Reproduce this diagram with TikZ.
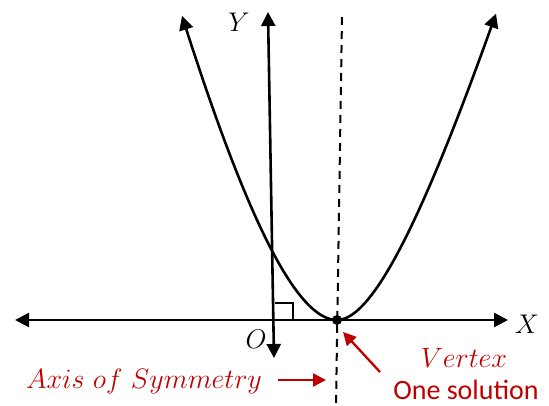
\RequirePackage{fix-cm}
\documentclass[tikz,border=0pt]{standalone}
\usepackage{fontspec}
\newfontfamily\calib{Carlito}
\usetikzlibrary{arrows.meta}
\definecolor{markred}{HTML}{C00000}
\begin{document}
\begin{tikzpicture}[x=1pt,y=-1pt,
    axis/.style={line width=2.6pt,{Triangle[length=14pt,width=14pt]}-{Triangle[length=14pt,width=14pt]}},
    pointer/.style={markred,line width=2.3pt,-{Triangle[length=13pt,width=13pt]}},
    lbl/.style={font=\fontsize{27}{32}\selectfont,anchor=base,inner sep=0pt}]
    \useasboundingbox (0,0) rectangle (549,405);

    % axes
    \coordinate (xl) at (15,320);
    \coordinate (xr) at (508,320);
    \coordinate (yb) at (274,358);
    \coordinate (yt) at (268,12);
    \draw[axis] (xl) -- (xr);
    \draw[axis] (yb) -- (yt);
    \node[lbl] (xlab) at (527,333) {$X$};
    \node[lbl] (ylab) at (239,31) {$Y$};
    \node[lbl] (olab) at (256,348) {$O$};

    % right angle mark
    \draw[line width=2pt] (275,303) -- (293,303) -- (293,320);

    % axis of symmetry
    \coordinate (st) at (342,17);
    \coordinate (sb) at (336,405);
    \draw[line width=2pt, dash pattern=on 8pt off 6pt] (st) -- (sb);

    % parabola
    \draw[axis]
    plot[domain=182:337,samples=80] (\x,{320-(337-\x)*((337-\x)/(48+0.2*(337-\x)))})
    -- plot[domain=337:496,samples=80] (\x,{320-(\x-337)*((\x-337)/(38+0.28*(\x-337)))});

    % vertex
    \fill (337,320) circle (5);
    \coordinate (vx) at (343,332);

    % notes
    \node[lbl,markred,font=\fontsize{28}{32}\selectfont] (sym) at (144,388) {$Axis\ of\ Symmetry$};
    \coordinate (symtail) at (278,380);
    \coordinate (symtip) at (326,380);
    \draw[pointer] (symtail) -- (symtip);
    \node[lbl,markred,font=\fontsize{28}{32}\selectfont] (vert) at (464,367) {$Vertex$};
    \node[lbl,markred,font=\calib\fontsize{28}{32}\selectfont] (sol) at (466,399) {One solution};
    \coordinate (vtail) at (380,372);
    \draw[pointer] (vtail) -- (vx);
\end{tikzpicture}
\end{document}
